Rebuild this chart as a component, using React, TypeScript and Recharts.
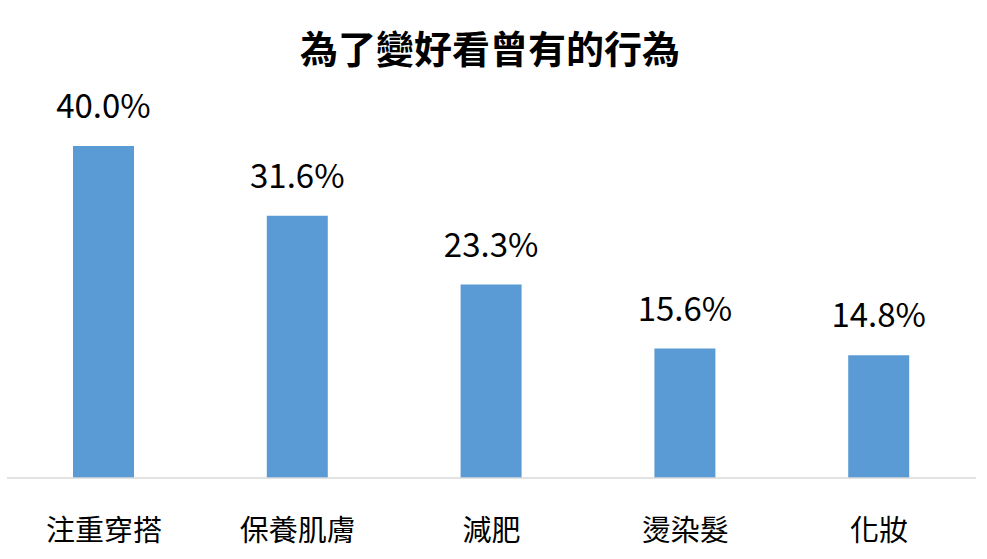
import React from 'react';
import { BarChart, Bar, XAxis, YAxis, LabelList } from 'recharts';

const categories = ['注重穿搭', '保養肌膚', '減肥', '燙染髮', '化妝'];
const shares = [40.0, 31.6, 23.3, 15.6, 14.8];

const data = categories.map((name, i) => ({ name, value: shares[i] }));

const FONT = '"Noto Sans CJK TC", "Noto Sans CJK SC", sans-serif';

function CategoryTick(props: any) {
  const { x, y, payload } = props;
  return (
    <text x={x} y={y} dy={63} textAnchor="middle" fontSize={29} fontFamily={FONT} fill="#000">
      {payload.value}
    </text>
  );
}

function ValueLabel(props: any) {
  const { x, y, width, value } = props;
  return (
    <text x={x + width / 2} y={y} dy={-28} textAnchor="middle" fontSize={33} fontFamily={FONT} fill="#000">
      {Number(value).toFixed(1)}%
    </text>
  );
}

export default function App() {
  return (
    <div style={{ position: 'relative', width: 987, height: 559, background: '#fff', fontFamily: FONT }}>
      <style>{'body{margin:0}'}</style>
      <div
        style={{
          position: 'absolute',
          top: 28,
          left: 0,
          width: 980,
          textAlign: 'center',
          fontSize: 38,
          lineHeight: '38px',
          fontWeight: 700,
          color: '#000',
        }}
      >
        為了變好看曾有的行為
      </div>
      <BarChart
        width={987}
        height={559}
        data={data}
        margin={{ top: 63, right: 11, bottom: 0, left: 7 }}
        barSize={61}
      >
        <XAxis
          dataKey="name"
          height={81}
          tickLine={false}
          tickSize={0}
          tickMargin={0}
          axisLine={{ stroke: '#D9D9D9', strokeWidth: 1.5 }}
          tick={<CategoryTick />}
          interval={0}
        />
        <YAxis hide domain={[0, 50]} />
        <Bar dataKey="value" fill="#5B9BD5" isAnimationActive={false}>
          <LabelList dataKey="value" content={<ValueLabel />} />
        </Bar>
      </BarChart>
    </div>
  );
}
